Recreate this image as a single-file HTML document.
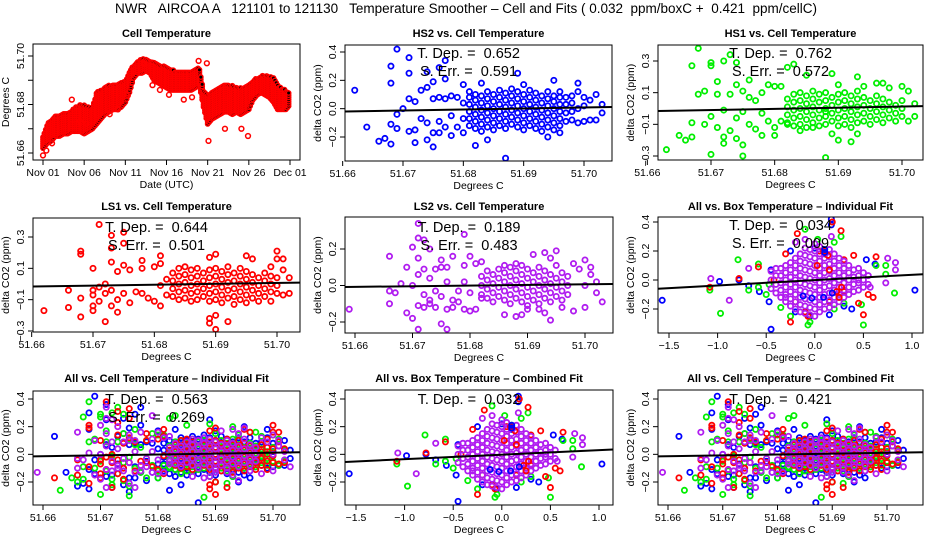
<!DOCTYPE html>
<html><head><meta charset="utf-8"><title>NWR AIRCOA A Temperature Smoother</title>
<style>
html,body{margin:0;padding:0;background:#fff;}
svg{display:block;font-family:"Liberation Sans",sans-serif;}
</style></head>
<body>
<svg id="fig" width="936" height="540" viewBox="0 0 936 540" xmlns="http://www.w3.org/2000/svg">
<rect x="0" y="0" width="936" height="540" fill="#fff"/>
<text x="466" y="13" font-size="13.5" text-anchor="middle" style="white-space:pre" xml:space="preserve">NWR   AIRCOA A   121101 to 121130   Temperature Smoother – Cell and Fits ( 0.032  ppm/boxC +  0.421  ppm/cellC)</text>
</svg>
<script>
// ---------- DATA ----------
const tsDays = [0,0.5,1,1.5,2,2.5,3,3.5,4,4.5,5,5.5,6,6.5,7,7.5,8,8.5,9,9.5,10,10.5,11,11.5,12,12.5,13,13.5,14,14.5,15,15.5,16,16.5,17,17.5,18,18.5,19,19.5,20,20.5,21,21.5,22,22.5,23,23.5,24,24.5,25,25.5,26,26.5,27,27.5,28,28.5,29,29.5,30];
const tsLow  = [62,64,65,67,67,68,68,69,69,69,68,69,70,72,74,76,77,78,78,79,81,85,91,93,93,94,93,90,89,88,87,86,86,86,86,86,86,87,88,79,72,74,75,76,77,77,76,77,76,77,78,82,84,85,84,83,81,78,78,78,80];
const tsHigh = [67,72,74,76,76,77,77,78,79,80,80,79,79,85,86,87,88,88,88,89,90,94,96,98,99,99,98,98,97,96,96,95,94,94,94,94,94,95,95,86,84,85,86,87,88,88,88,87,87,87,88,90,91,92,92,92,91,88,87,86,85];
const tsOutliers = [[0,59],[0.4,61],[1.1,64],[3.5,82],[4.5,73],[5.2,72],[8.1,76],[9.1,78],[10.2,84],[12.2,97],[13.3,88],[14.2,86],[15.3,84],[17.1,82],[18.1,83],[18.9,98],[19.9,97],[20.1,65],[22.1,70],[24.1,70],[24.9,67],[28.9,79]];
const tsXLabels = ["Nov 01","Nov 06","Nov 11","Nov 16","Nov 21","Nov 26","Dec 01"];
const tsXTicks = [0,5,10,15,20,25,30];

const hs2Out = [[62,13],[64,-13],[66,-23],[67,-21],[68,-25],[68,-11],[68,18],[68,30],[69,42],[69,-14],[69,-4],[70,0],[71,36],[71,25],[71,7],[71,-16],[72,-24],[72,-15],[72,5],[73,13],[73,-7],[74,26],[74,15],[74,-22],[74,-10],[75,-27],[75,19],[75,7],[75,-17],[76,29],[76,8],[76,-9],[76,-17],[77,34],[77,21],[77,7],[77,-13],[78,-19],[78,9],[78,-5],[79,8],[79,-13],[80,17],[80,-17],[80,4],[80,-7],[82,-26],[83,18],[84,-22],[87,-35],[89,25],[90,17],[95,20],[96,12],[99,18],[94,-20],[102,-8],[103,3],[103,-3],[101,-8]];
const hs2Core = [[81,-12,-7,-2,3,8,12],[82,-14,-9,-4,1,6,10],[83,-11,-6,-1,4,9,-16],[84,-13,-8,-3,2,7,12],[85,-15,-10,-5,0,5,10],[86,-12,-7,-2,3,8,13],[87,-14,-9,-4,1,6,11],[88,-11,-6,-1,4,9,14],[89,-13,-8,-3,2,7,12],[90,-15,-10,-5,0,5,10],[91,-12,-7,-2,3,8,13],[92,-14,-9,-4,1,6,11],[93,-11,-6,-1,4,9,-16],[94,-13,-8,-3,2,7,12],[95,-10,-5,0,5,9,-15],[96,-12,-7,-2,3,8,-17],[97,-9,-3,3,8],[98,-8,-2,4,9],[99,-10,0,12],[100,-9,2,8],[101,6],[102,10]];
const hs1Out = [[63,-26],[65,-17],[66,-20],[67,-18],[67,-9],[67,27],[68,38],[68,9],[69,11],[69,-10],[70,-29],[70,-5],[70,27],[70,29],[71,17],[71,9],[71,-12],[72,30],[72,-22],[72,-18],[72,-1],[73,34],[73,-14],[73,9],[74,29],[74,15],[74,-19],[74,-6],[75,11],[75,-23],[75,-30],[75,-2],[76,18],[76,7],[76,-10],[77,5],[77,-13],[78,-3],[78,10],[78,-17],[79,15],[79,-8],[80,14],[80,-12],[80,-17],[81,14],[81,-8],[82,26],[82,-10],[83,28],[84,-14],[85,21],[86,-12],[88,-31],[88,-2],[89,-16],[89,22],[90,15],[90,-20],[92,-21],[93,20],[93,-16],[94,14],[96,16],[97,16],[98,13],[100,14],[101,11],[101,-8],[102,-5],[102,3]];
const hs1Core = [[82,-9,-4,1,6],[83,-11,-6,-1,4,9],[84,-10,-5,0,5,10],[85,-12,-7,-2,3,8],[86,-9,-4,1,6,11],[87,-11,-6,-1,4,9],[88,-10,-5,0,5,10],[89,-8,-3,2,7],[90,-11,-6,-1,4,9],[91,-10,-5,0,5,10],[92,-12,-7,-2,3,8],[93,-9,-4,1,6,11],[94,-8,-3,2,7],[95,-10,-5,0,5],[96,-7,-2,3,8],[97,-9,-4,1,6],[98,-6,-1,4],[99,-8,-3,2],[100,-5,0,5]];
const ls1Out = [[62,-17],[66,-15],[66,-4],[68,-21],[68,-9],[68,19],[68,21],[70,-17],[70,-14],[70,-7],[70,-4],[70,10],[71,-2],[71,-11],[71,38],[72,-24],[72,0],[72,-6],[73,31],[73,23],[73,-14],[73,14],[73,-4],[74,-18],[74,-10],[74,8],[75,33],[75,26],[75,12],[75,-6],[76,-12],[76,9],[77,-5],[78,10],[78,15],[78,-6],[79,-9],[80,11],[80,-11],[81,18],[81,13],[81,-14],[81,-1],[82,3],[82,-7],[89,-22],[89,-25],[89,17],[90,-20],[90,-29],[90,19],[92,-24],[95,18],[96,16],[99,11],[100,21],[100,16],[101,-7],[101,9],[101,16],[102,4],[102,-6],[99,-11]];
const ls1Core = [[83,-8,-3,2,7],[84,-10,-5,0,5,10],[85,-9,-4,1,6,11],[86,-11,-6,-1,4,9],[87,-10,-5,0,5,10],[88,-8,-3,2,7],[89,-11,-6,-1,4,9],[90,-10,-5,0,5,10],[91,-12,-7,-2,3,8],[92,-9,-4,1,6,11],[93,-13,-8,-3,2,7],[94,-10,-5,0,5,10],[95,-12,-7,-2,3,8],[96,-9,-4,1,6],[97,-11,-6,-1,4],[98,-8,-3,2,7],[99,-5,0,5],[100,-6,-1,4]];
const ls2Out = [[59,-13],[66,16],[66,-3],[66,-10],[67,-4],[68,1],[69,10],[69,-15],[70,21],[70,-18],[70,0],[71,34],[71,26],[71,15],[71,6],[71,-11],[71,-24],[72,25],[72,9],[72,-5],[72,-12],[73,20],[73,4],[73,-8],[73,-10],[74,9],[74,-3],[74,-12],[75,14],[75,10],[75,-21],[75,-6],[76,10],[76,-13],[76,-24],[76,2],[77,16],[77,-8],[77,-12],[78,-9],[78,-3],[79,28],[79,11],[79,2],[79,-13],[80,16],[80,-14],[80,-4],[81,12],[81,-13],[82,13],[82,-7],[86,-16],[88,-17],[89,-16],[90,-13],[91,17],[92,-13],[93,18],[93,-15],[94,15],[94,-19],[95,19],[95,11],[96,-12],[98,12],[98,-14],[99,9],[100,14],[100,-12],[101,10],[101,6],[102,2],[102,-4],[103,-9],[100,0]];
const ls2Core = [[82,-5,0,5],[83,-7,-2,3,8],[84,-9,-4,1,6],[85,-6,-1,4,9],[86,-8,-3,2,7,11],[87,-10,-5,0,5,10],[88,-7,-2,3,8,12],[89,-9,-4,1,6,11],[90,-11,-6,-1,4,9],[91,-8,-3,2,7],[92,-10,-5,0,5,10],[93,-7,-2,3,8],[94,-9,-4,1,6],[95,-6,-1,4],[96,-8,-3,2,7],[97,-5,0,5]];

const boxCore = [[-0.45,-6,0,6],[-0.40,-9,-3,3,8],[-0.35,-12,-7,-2,3,8],[-0.30,-15,-10,-5,0,5,10],[-0.25,-18,-13,-8,-3,2,7,12],[-0.20,-20,-15,-10,-5,0,5,10,15],[-0.15,-22,-17,-12,-7,-2,3,8,13,18],[-0.10,-23,-18,-13,-8,-3,2,7,12,17,22],[-0.05,-24,-19,-14,-9,-4,1,6,11,16,21],[0.00,-25,-20,-15,-10,-5,0,5,10,15,20,25],[0.05,-22,-17,-12,-7,-2,3,8,13,18,23],[0.10,-20,-15,-10,-5,0,5,10,15,20],[0.15,-19,-14,-9,-4,1,6,11,16,21],[0.20,-17,-12,-7,-2,3,8,13,18],[0.25,-15,-10,-5,0,5,10,15],[0.30,-12,-7,-2,3,8,13],[0.35,-10,-5,0,5,10],[0.40,-8,-3,2,7],[0.45,-7,-2,3,8],[0.50,-5,0,5],[0.55,-3,3]];
const boxBlue = [[-1.57,-14],[-0.98,-1],[-0.78,0],[-0.68,-4],[-0.57,-8],[-0.45,-34],[-0.47,-15],[-0.45,7],[-0.2,-22],[-0.05,-25],[0.15,-24],[0.17,42],[0.17,38],[0.3,-18],[0.38,-20],[0.53,14],[0.62,11],[1.03,-7],[0.0,22],[-0.25,20],[0.1,18],[0.25,-12]];
const boxGreen = [[-1.08,-7],[-0.97,-23],[-0.79,14],[-0.68,-7],[-0.58,11],[-0.58,-5],[-0.5,-10],[-0.47,-3],[-0.35,-19],[-0.25,-25],[-0.07,-31],[-0.05,-29],[0.03,28],[0.1,21],[0.2,26],[0.27,30],[0.3,-16],[0.5,-31],[0.48,-17],[0.63,10],[0.73,4],[0.82,-9],[0.73,10],[-0.1,35],[0.2,-20]];
const boxRed = [[-1.08,-5],[-0.78,1],[-0.58,9],[-0.42,0],[-0.3,18],[-0.25,-29],[-0.18,32],[-0.1,-22],[-0.07,-25],[0.05,20],[0.18,40],[0.27,34],[0.3,14],[0.45,-16],[0.5,-24],[0.55,-10],[0.6,-12],[0.63,16],[0.4,17],[0.15,-15],[-0.2,-15],[0.3,-8]];
const boxPurple = [[-1.07,1],[-0.88,-14],[-0.68,8],[-0.3,-12],[-0.2,26],[-0.1,28],[0.17,30],[0.57,-5],[0.73,-2],[0.75,15],[0.83,12],[0.83,7],[0.45,0]];

const fitLeft  = [-0.02,-0.016,-0.016,-0.008,-0.06,-0.015,-0.055,-0.015];
const fitRight = [0.012,0.015,0.009,0.008,0.04,0.015,0.035,0.015];
const tDep = ["0.652","0.762","0.644","0.189","0.034","0.563","0.032","0.421"];
const sErr = ["0.591","0.572","0.501","0.483","0.009","0.269",null,null];

// ---------- DRAWING ----------
const NS="http://www.w3.org/2000/svg";
const svg=document.getElementById('fig');
function mk(tag,attrs,parent){const e=document.createElementNS(NS,tag);for(const k in attrs)e.setAttribute(k,attrs[k]);(parent||svg).appendChild(e);return e;}
function lin(d0,p0,d1,p1){return v=>p0+(v-d0)*(p1-p0)/(d1-d0);}
const COL={blue:"#0000ff",green:"#00ee00",red:"#ff0000",purple:"#b01cf0"};

function panel(cfg){
  const g=mk('g',{});
  
  
  const b=cfg.box;
  const t=mk('text',{x:(b.l+b.r)/2,y:cfg.titleY,'font-size':11,'font-weight':'bold','text-anchor':'middle'},g);
  t.textContent=cfg.title;
  
  
  const clip='c'+cfg.id;
  const cp=mk('clipPath',{id:clip},g);mk('rect',{x:b.l,y:b.t,width:b.r-b.l,height:b.b-b.t},cp);
  const pg=mk('g',{'clip-path':'url(#'+clip+')'},g);
  
  
  cfg.draw(pg);
  const frame=mk('rect',{x:b.l,y:b.t,width:b.r-b.l,height:b.b-b.t,fill:'none',stroke:'#000','stroke-width':1},g);
  
  
  const xa=mk('g',{},g);
  
  
  cfg.xTicks.forEach((v,i)=>{const px=cfg.sx(v);mk('line',{x1:px,x2:px,y1:b.b,y2:b.b+5,stroke:'#000'},xa);
    if(cfg.xLabels[i]!==''){const tx=mk('text',{x:px,y:b.b+16,'font-size':10.5,'text-anchor':'middle'},xa);tx.textContent=cfg.xLabels[i];}});
  const xt=mk('text',{x:(b.l+b.r)/2,y:b.b+28,'font-size':10.5,'text-anchor':'middle'},g);
  xt.textContent=cfg.xTitle;
  
  
  const ya=mk('g',{},g);
  
  
  cfg.yTicks.forEach((v,i)=>{const py=cfg.sy(v);mk('line',{x1:b.l-5,x2:b.l,y1:py,y2:py,stroke:'#000'},ya);
    if(cfg.yLabels[i]!==''){const tx=mk('text',{x:0,y:0,'font-size':10.5,'text-anchor':'middle',transform:`translate(${b.l-9},${py}) rotate(-90)`},ya);tx.textContent=cfg.yLabels[i];}});
  const yt=mk('text',{x:0,y:0,'font-size':10.5,'text-anchor':'middle',transform:`translate(${b.l-24},${(b.t+b.b)/2}) rotate(-90)`},g);
  yt.textContent=cfg.yTitle;
  
  
  if(cfg.fit!=null){
    const fl=mk('line',{x1:b.l,x2:b.r,y1:cfg.sy(fitLeft[cfg.fit]),y2:cfg.sy(fitRight[cfg.fit]),stroke:'#000','stroke-width':2},g);
    
    
    const cx=(b.l+b.r)/2-10;
    const a=mk('text',{x:cx,y:cfg.annY,'font-size':14.5,'text-anchor':'middle','xml:space':'preserve',style:'white-space:pre'},g);
    a.textContent='T. Dep. =  '+tDep[cfg.fit];
    
    
    if(sErr[cfg.fit]){const s=mk('text',{x:cx,y:cfg.annY+18,'font-size':14.5,'text-anchor':'middle',style:'white-space:pre'},g);
      s.textContent='S. Err. =  '+sErr[cfg.fit];
      
      }
  }
}
function pt(g,x,y,col){const c=mk('circle',{cx:x,cy:y,r:2.6,fill:'none',stroke:col,'stroke-width':1.8},g);
  
  }
function drawSeries(g,sx,sy,out,core,col){
  core.forEach(row=>{for(let i=1;i<row.length;i++)pt(g,sx(51.6+row[0]/1000),sy(row[i]/100),col);});
  out.forEach(p=>pt(g,sx(51.6+p[0]/1000),sy(p[1]/100),col));
}
function drawBox(g,sx,sy){
  [[boxBlue,COL.blue],[boxGreen,COL.green],[boxRed,COL.red]].forEach(([a,c])=>a.forEach(p=>pt(g,sx(p[0]),sy(p[1]/100),c)));
  boxCore.forEach(row=>{for(let i=1;i<row.length;i++)pt(g,sx(row[0]),sy(row[i]/100),COL.purple);});
  boxPurple.forEach(p=>pt(g,sx(p[0]),sy(p[1]/100),COL.purple));
  boxRed.slice(9,16).forEach(p=>pt(g,sx(p[0]*0.5),sy(p[1]/200),COL.red));
  boxBlue.slice(8,14).forEach(p=>pt(g,sx(p[0]*0.6),sy(p[1]/200),COL.blue));
}
const tempTicks=[51.66,51.67,51.68,51.69,51.70], tempLabels=["51.66","51.67","51.68","51.69","51.70"];
const dT=["−0.2","0.0","0.2","0.4"], dTv=[-0.2,0,0.2,0.4];
const dT3=["−0.3","−0.1","0.1","0.3"], dT3v=[-0.3,-0.1,0.1,0.3];
const boxTicks=[-1.5,-1,-0.5,0,0.5,1], boxLabels=["−1.5","−1.0","−0.5","0.0","0.5","1.0"];
const YT="delta CO2 (ppm)", XT="Degrees C";

(function(){
  const sx=lin(0,43,30,290), sy=lin(51.66,153,51.70,56);
  panel({id:1,name:'cell-temperature-panel',title:'Cell Temperature',titleY:37,box:{l:33,r:300,t:44,b:160},sx,sy,
    xTicks:tsXTicks,xLabels:tsXLabels,xTitle:'Date (UTC)',yTicks:[51.66,51.67,51.68,51.69,51.70],yLabels:["51.66","","51.68","","51.70"],yTitle:'Degrees C',fit:null,
    draw:g=>{
      tsDays.forEach((d,i)=>{if(i===tsDays.length-1)return;
        const lo=tsLow[i],hi=tsHigh[i],lo2=tsLow[i+1],hi2=tsHigh[i+1];
        for(let k=0;k<3;k++){const dd=d+k/6,f=k/3,l=lo+(lo2-lo)*f,h=hi+(hi2-hi)*f;
          for(let v=l;v<=h;v+=0.9){const c=mk('circle',{cx:sx(dd),cy:sy(51.6+v/1000),r:2.2,fill:'#000',stroke:'#f00','stroke-width':1.4},g);
            
            }}});
      tsOutliers.forEach(p=>{const c=mk('circle',{cx:sx(p[0]),cy:sy(51.6+p[1]/1000),r:2.4,fill:'none',stroke:'#f00','stroke-width':1.5},g);
        
        });
    }});
})();
(function(){const sx=lin(51.67,403,51.70,584),sy=lin(-0.2,137,0.4,52);
  panel({id:2,name:'hs2-panel',title:'HS2 vs. Cell Temperature',titleY:37,box:{l:345,r:612,t:45,b:161},sx,sy,xTicks:tempTicks,xLabels:tempLabels,xTitle:XT,yTicks:dTv,yLabels:dT,yTitle:YT,fit:0,annY:58,
    draw:g=>drawSeries(g,sx,sy,hs2Out,hs2Core,COL.blue)});})();
(function(){const sx=lin(51.67,711,51.70,902),sy=lin(-0.3,156,0.3,61);
  panel({id:3,name:'hs1-panel',title:'HS1 vs. Cell Temperature',titleY:37,box:{l:658,r:923,t:45,b:160},sx,sy,xTicks:tempTicks,xLabels:tempLabels,xTitle:XT,yTicks:dT3v,yLabels:dT3,yTitle:YT,fit:1,annY:58,
    draw:g=>drawSeries(g,sx,sy,hs1Out,hs1Core,COL.green)});})();
(function(){const sx=lin(51.67,93,51.70,277),sy=lin(-0.3,331,0.3,237);
  panel({id:4,name:'ls1-panel',title:'LS1 vs. Cell Temperature',titleY:210,box:{l:33,r:300,t:218,b:332},sx,sy,xTicks:tempTicks,xLabels:tempLabels,xTitle:XT,yTicks:dT3v,yLabels:dT3,yTitle:YT,fit:2,annY:232,
    draw:g=>drawSeries(g,sx,sy,ls1Out,ls1Core,COL.red)});})();
(function(){const sx=lin(51.66,355,51.70,585),sy=lin(-0.2,322,0.2,249);
  panel({id:5,name:'ls2-panel',title:'LS2 vs. Cell Temperature',titleY:210,box:{l:345,r:613,t:217,b:333},sx,sy,xTicks:tempTicks,xLabels:tempLabels,xTitle:XT,yTicks:[-0.2,0,0.2],yLabels:["−0.2","0.0","0.2"],yTitle:YT,fit:3,annY:232,
    draw:g=>drawSeries(g,sx,sy,ls2Out,ls2Core,COL.purple)});})();
(function(){const sx=lin(-1.5,669,1.0,912),sy=lin(-0.2,309,0.4,222);
  panel({id:6,name:'all-box-individual-panel',title:'All vs. Box Temperature – Individual Fit',titleY:210,box:{l:658,r:923,t:217,b:333},sx,sy,xTicks:boxTicks,xLabels:boxLabels,xTitle:XT,yTicks:dTv,yLabels:dT,yTitle:YT,fit:4,annY:230,
    draw:g=>drawBox(g,sx,sy)});})();
(function(){const sx=lin(51.66,43,51.70,273),sy=lin(-0.2,482,0.4,399);
  panel({id:7,name:'all-cell-individual-panel',title:'All vs. Cell Temperature – Individual Fit',titleY:382,box:{l:33,r:300,t:391,b:505},sx,sy,xTicks:tempTicks,xLabels:tempLabels,xTitle:XT,yTicks:dTv,yLabels:dT,yTitle:YT,fit:5,annY:404,
    draw:g=>{drawSeries(g,sx,sy,hs2Out,hs2Core,COL.blue);drawSeries(g,sx,sy,hs1Out,hs1Core,COL.green);drawSeries(g,sx,sy,ls1Out,ls1Core,COL.red);drawSeries(g,sx,sy,ls2Out,ls2Core,COL.purple);}});})();
(function(){const sx=lin(-1.5,356,1.0,599),sy=lin(-0.2,482,0.4,399);
  panel({id:8,name:'all-box-combined-panel',title:'All vs. Box Temperature – Combined Fit',titleY:382,box:{l:345,r:613,t:390,b:505},sx,sy,xTicks:boxTicks,xLabels:boxLabels,xTitle:XT,yTicks:dTv,yLabels:dT,yTitle:YT,fit:6,annY:404,
    draw:g=>drawBox(g,sx,sy)});})();
(function(){const sx=lin(51.66,668,51.70,887),sy=lin(-0.2,482,0.4,399);
  panel({id:9,name:'all-cell-combined-panel',title:'All vs. Cell Temperature – Combined Fit',titleY:382,box:{l:658,r:923,t:390,b:505},sx,sy,xTicks:tempTicks,xLabels:tempLabels,xTitle:XT,yTicks:dTv,yLabels:dT,yTitle:YT,fit:7,annY:404,
    draw:g=>{drawSeries(g,sx,sy,hs2Out,hs2Core,COL.blue);drawSeries(g,sx,sy,hs1Out,hs1Core,COL.green);drawSeries(g,sx,sy,ls1Out,ls1Core,COL.red);drawSeries(g,sx,sy,ls2Out,ls2Core,COL.purple);}});})();
</script>
</body></html>
